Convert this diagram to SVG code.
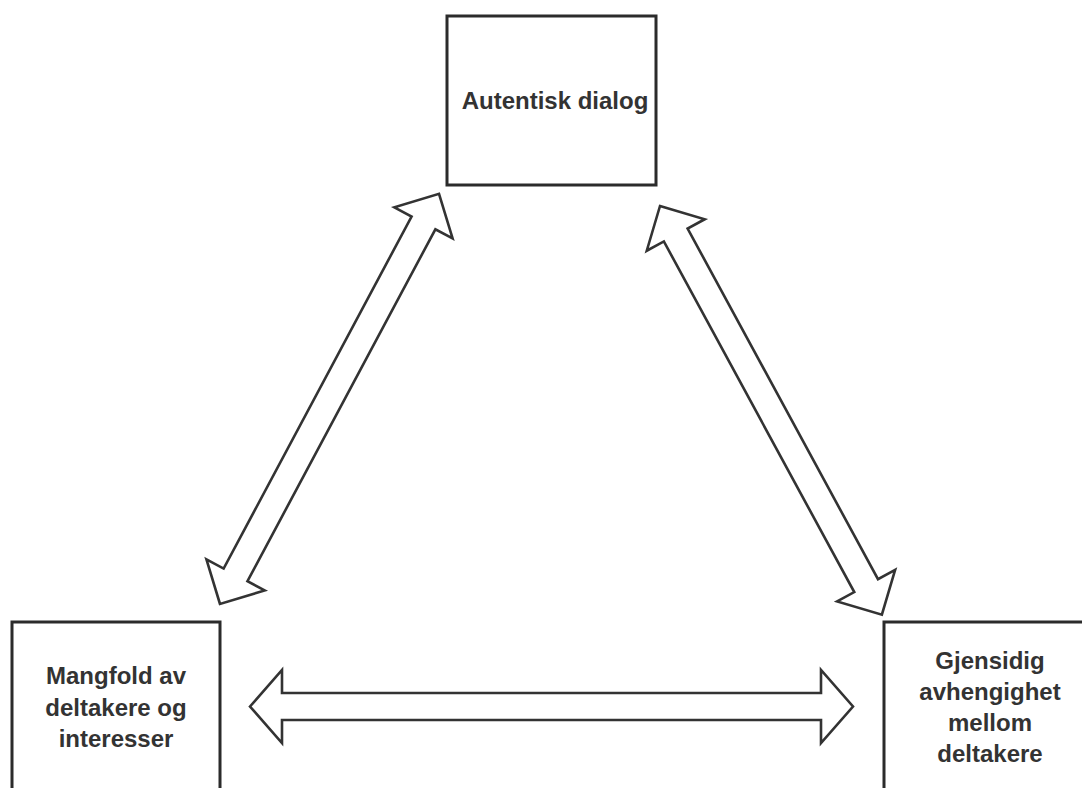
<svg xmlns="http://www.w3.org/2000/svg" width="1082" height="788" viewBox="0 0 1082 788">
  <style>
    .box { fill: #ffffff; stroke: #2b2b2b; stroke-width: 3; }
    .arrow { fill: #ffffff; stroke: #333333; stroke-width: 2.6; stroke-linejoin: miter; }
    .label { font-family: "Liberation Sans", Arial, sans-serif; font-size: 24px; font-weight: bold; fill: #333333; text-anchor: middle; }
  </style>
  <rect width="1082" height="788" fill="#ffffff"/>
  <g id="connectors">
    <polygon class="arrow" transform="translate(220,604) rotate(-61.9)" points="0,0 33,-33 33,-13.5 432,-13.5 432,-33 465,0 432,33 432,13.5 33,13.5 33,33"/>
    <polygon class="arrow" transform="translate(660,206) rotate(61.5)" points="0,0 33,-33 33,-13.5 432,-13.5 432,-33 465,0 432,33 432,13.5 33,13.5 33,33"/>
    <polygon class="arrow" transform="translate(250,706.5)" points="0,0 32,-36.5 32,-13.5 571,-13.5 571,-36.5 603,0 571,36.5 571,13.5 32,13.5 32,36.5"/>
  </g>
  <g id="node-autentisk">
    <rect class="box" x="447" y="16" width="209" height="169"/>
    <text class="label" x="555" y="109">Autentisk dialog</text>
  </g>
  <g id="node-mangfold">
    <rect class="box" x="12" y="622" width="208" height="170"/>
    <text class="label" x="116" y="684">Mangfold av</text>
    <text class="label" x="116" y="715.5">deltakere og</text>
    <text class="label" x="116" y="747">interesser</text>
  </g>
  <g id="node-gjensidig">
    <rect class="box" x="884" y="622" width="212" height="170"/>
    <text class="label" x="990" y="669">Gjensidig</text>
    <text class="label" x="990" y="700">avhengighet</text>
    <text class="label" x="990" y="731">mellom</text>
    <text class="label" x="990" y="762">deltakere</text>
  </g>
</svg>
